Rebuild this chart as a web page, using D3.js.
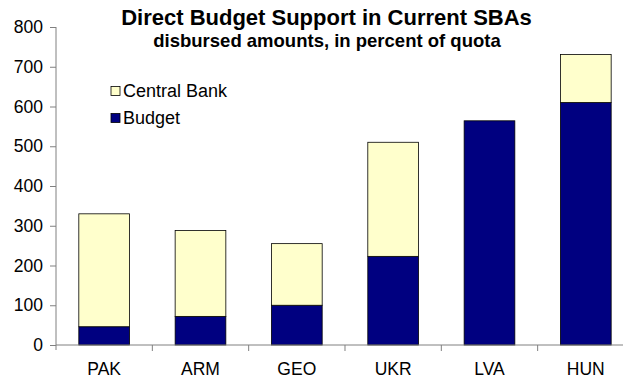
<!DOCTYPE html>
<html>
<head>
<meta charset="utf-8">
<script src="https://cdn.jsdelivr.net/npm/d3@7"></script>
<style>
  html, body { margin: 0; padding: 0; background: #fff; }
  svg { display: block; font-family: "Liberation Sans", Arial, sans-serif; }
</style>
</head>
<body>
<svg id="chart" width="623" height="380"></svg>
<script>
// Countries with a current Stand-By Arrangement
const countries = ["PAK", "ARM", "GEO", "UKR", "LVA", "HUN"];
// Disbursed amounts, percent of quota
const budget      = [46, 72, 100, 223, 564, 610];
const centralBank = [284, 216, 155, 287, 0, 121];
const yTicks = [0, 100, 200, 300, 400, 500, 600, 700, 800];
const seriesNames = ["Budget", "Central Bank"];
const seriesColors = { "Budget": "#000080", "Central Bank": "#FFFFCC" };

const svg = d3.select("#chart");
const margin = { left: 56, top: 27, bottom: 345 };

const x = d3.scaleBand()
  .domain(countries)
  .range([margin.left, margin.left + 6 * 96.33])
  .paddingInner(0.9 / 1.9)
  .paddingOuter(0.45 / 1.9);

const xAxisScale = d3.scaleBand()
  .domain(countries)
  .range([margin.left, margin.left + 6 * 96.33]);

const y = d3.scaleLinear().domain([0, 800]).range([margin.bottom, margin.top]);

// stacked layout: Budget at the bottom, Central Bank on top
const rows = countries.map((c, i) => ({ country: c, "Budget": budget[i], "Central Bank": centralBank[i] }));
const stack = d3.stack().keys(seriesNames)(rows);

svg.append("g")
  .selectAll("g")
  .data(stack)
  .join("g")
  .attr("fill", d => seriesColors[d.key])
  .selectAll("rect")
  .data(d => d.filter(p => p[1] - p[0] > 0))
  .join("rect")
  .attr("x", d => x(d.data.country))
  .attr("width", x.bandwidth())
  .attr("y", d => y(d[1]))
  .attr("height", d => y(d[0]) - y(d[1]))
  .attr("stroke", "#000")
  .attr("stroke-width", 0.8);

// y axis
const yAxis = svg.append("g")
  .attr("transform", `translate(${margin.left},0)`)
  .call(d3.axisLeft(y).tickValues(yTicks).tickSize(6).tickPadding(7).tickFormat(d3.format("d")));
yAxis.select(".domain").attr("stroke", "#808080").attr("d", `M0,${margin.bottom + 5}V${margin.top}`);
yAxis.selectAll(".tick line").attr("stroke", "#808080");
yAxis.selectAll(".tick text").attr("font-size", "17.5px").attr("fill", "#000");

// x axis: ticks sit between categories
const xAxis = svg.append("g").attr("transform", `translate(0,${margin.bottom})`);
xAxis.append("line")
  .attr("x1", margin.left).attr("x2", margin.left + 6 * 96.33)
  .attr("stroke", "#808080");
xAxis.selectAll("line.sep")
  .data(countries.slice(1))
  .join("line")
  .attr("class", "sep")
  .attr("x1", d => xAxisScale(d)).attr("x2", d => xAxisScale(d))
  .attr("y1", 0).attr("y2", 6)
  .attr("stroke", "#808080");
xAxis.selectAll("text")
  .data(countries)
  .join("text")
  .attr("x", d => xAxisScale(d) + xAxisScale.bandwidth() / 2)
  .attr("y", 30)
  .attr("text-anchor", "middle")
  .attr("font-size", "17.5px")
  .text(d => d);

// titles
svg.append("text")
  .attr("x", 326.5).attr("y", 25)
  .attr("text-anchor", "middle")
  .attr("font-weight", "bold")
  .attr("font-size", "22px")
  .text("Direct Budget Support in Current SBAs");
svg.append("text")
  .attr("x", 327).attr("y", 47)
  .attr("text-anchor", "middle")
  .attr("font-weight", "bold")
  .attr("font-size", "18.5px")
  .text("disbursed amounts, in percent of quota");

// legend
const legendItems = ["Central Bank", "Budget"];
const legend = svg.append("g")
  .selectAll("g")
  .data(legendItems)
  .join("g")
  .attr("transform", (d, i) => `translate(111,${91 + i * 27})`);
legend.append("rect")
  .attr("x", 0).attr("y", -4.5)
  .attr("width", 9).attr("height", 9)
  .attr("fill", d => seriesColors[d])
  .attr("stroke", "#000").attr("stroke-width", 0.8);
legend.append("text")
  .attr("x", 12).attr("y", 6)
  .attr("font-size", "18px")
  .text(d => d);
</script>
</body>
</html>
